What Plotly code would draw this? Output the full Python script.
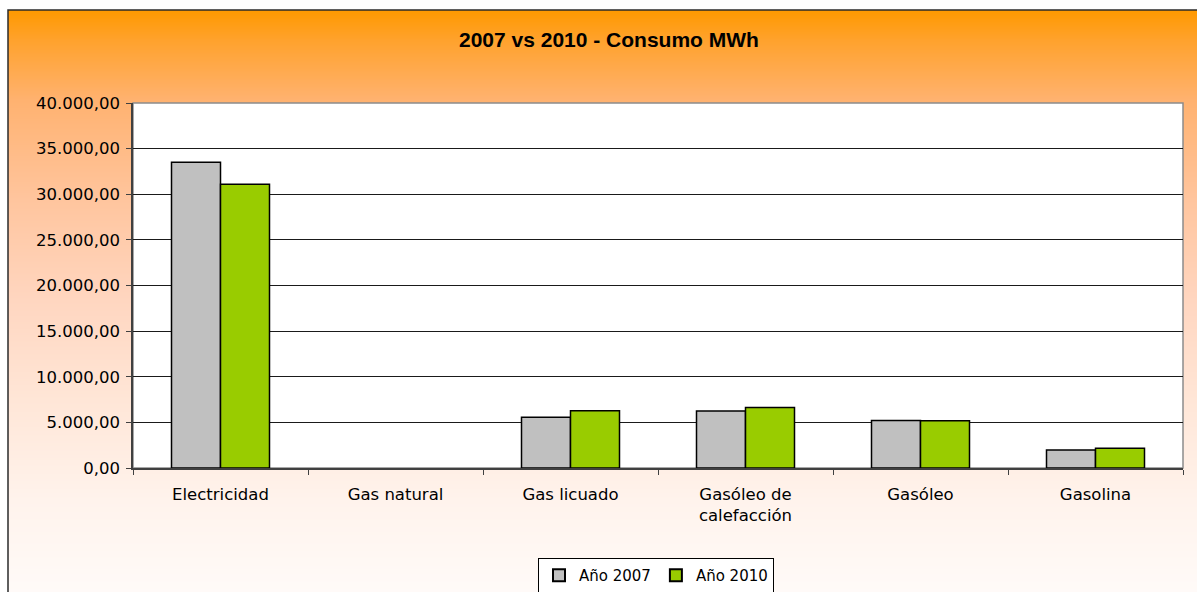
import base64
import struct
import zlib

import plotly.graph_objects as go

# ---------------- data ----------------
categories = ["Electricidad", "Gas natural", "Gas licuado",
              "Gasóleo de<br>calefacción", "Gasóleo", "Gasolina"]
series_names = ["Año 2007", "Año 2010"]
values_2007 = [33500, 0, 5550, 6250, 5200, 1980]
values_2010 = [31100, 0, 6270, 6620, 5180, 2160]
y_ticks = [0, 5000, 10000, 15000, 20000, 25000, 30000, 35000, 40000]
title_text = "2007 vs 2010 - Consumo MWh"

# ---------------- layout geometry (pixels) ----------------
W, H = 1197, 592
PL, PR, PT, PB = 133, 1183, 103, 468          # plot area edges
pw, ph = PR - PL, PB - PT


def px(x):
    return (x - PL) / pw


def py(y):
    return (PB - y) / ph


# ---------------- vertical gradient background as inline PNG ----------------
stops = [(10, (255, 153, 0)), (40, (255, 162, 45)), (100, (255, 178, 112)),
         (200, (255, 197, 158)), (300, (255, 214, 192)), (400, (255, 230, 215)),
         (500, (255, 243, 236)), (600, (255, 251, 249))]


def color_at(y):
    for (y0, c0), (y1, c1) in zip(stops[:-1], stops[1:]):
        if y0 <= y <= y1:
            t = (y - y0) / (y1 - y0)
            return tuple(int(round(a + (b - a) * t)) for a, b in zip(c0, c1))
    return stops[-1][1]


def make_png(rows):
    h = len(rows)
    raw = b"".join(b"\x00" + bytes(c) for c in rows)

    def chunk(tag, data):
        return (struct.pack(">I", len(data)) + tag + data +
                struct.pack(">I", zlib.crc32(tag + data) & 0xFFFFFFFF))
    return (b"\x89PNG\r\n\x1a\n" +
            chunk(b"IHDR", struct.pack(">IIBBBBB", 1, h, 8, 2, 0, 0, 0)) +
            chunk(b"IDAT", zlib.compress(raw, 9)) +
            chunk(b"IEND", b""))


grad_rows = [color_at(y) for y in range(10, 600)]
grad_uri = "data:image/png;base64," + base64.b64encode(make_png(grad_rows)).decode()


def outline_widths(vals):
    # no outline drawn for empty (zero) bars
    return [1.5 if v else 0 for v in vals]


# ---------------- figure ----------------
fig = go.Figure()
fig.add_trace(go.Bar(name=series_names[0], x=categories, y=values_2007,
                     marker=dict(color="#C0C0C0",
                                 line=dict(color="#000000", width=outline_widths(values_2007)))))
fig.add_trace(go.Bar(name=series_names[1], x=categories, y=values_2010,
                     marker=dict(color="#99CC00",
                                 line=dict(color="#000000", width=outline_widths(values_2010)))))

label_font = dict(family="DejaVu Sans", size=16.5, color="#000000")

fig.update_layout(
    width=W, height=H,
    margin=dict(l=PL, r=W - PR, t=PT, b=H - PB, pad=0, autoexpand=False),
    paper_bgcolor="#FFFFFF",
    plot_bgcolor="#FFFFFF",
    separators=",.",
    barmode="group",
    bargap=0.44,
    bargroupgap=0,
    showlegend=True,
    legend=dict(orientation="h", x=px(656), xanchor="center", y=py(558), yanchor="top",
                bgcolor="#FFFFFF", bordercolor="#000000", borderwidth=1,
                font=dict(family="DejaVu Sans", size=15, color="#000000"),
                itemsizing="constant"),
    xaxis=dict(showgrid=False, showline=True, linecolor="#404040", linewidth=1.5,
               ticks="outside", tickson="boundaries", ticklen=5, tickcolor="#404040",
               ticklabelstandoff=10,
               tickfont=label_font, zeroline=False),
    yaxis=dict(range=[0, 40000], tickvals=y_ticks, tickformat=",.2f",
               showgrid=True, gridcolor="#1A1A1A", gridwidth=1,
               showline=True, linecolor="#404040", linewidth=1.5,
               ticks="outside", ticklen=5, tickcolor="#404040",
               ticklabelstandoff=3,
               tickfont=label_font, zeroline=False),
    images=[dict(source=grad_uri, xref="paper", yref="paper",
                 x=px(8), y=py(10), sizex=(1230 - 8) / pw, sizey=(600 - 10) / ph,
                 xanchor="left", yanchor="top", sizing="stretch", layer="below")],
    shapes=[
        dict(type="rect", xref="paper", yref="paper", layer="below",
             x0=px(8), x1=px(1230), y0=py(620), y1=py(10),
             line=dict(color="#2B2B2B", width=1.5), fillcolor="rgba(0,0,0,0)"),
        dict(type="rect", xref="paper", yref="paper", layer="below",
             x0=0, x1=1, y0=0, y1=1,
             line=dict(color="#8C8C8C", width=1.5), fillcolor="#FFFFFF"),
    ],
    annotations=[dict(text="<b>" + title_text + "</b>", xref="paper", yref="paper",
                      x=px(608.5), y=py(40), xanchor="center", yanchor="middle",
                      showarrow=False,
                      font=dict(family="Liberation Sans", size=21, color="#000000"))],
)

fig.write_html("out.html",
               config={"displayModeBar": False},
               post_script="document.body.style.margin='0px';"
                           "document.body.style.overflow='hidden';")
